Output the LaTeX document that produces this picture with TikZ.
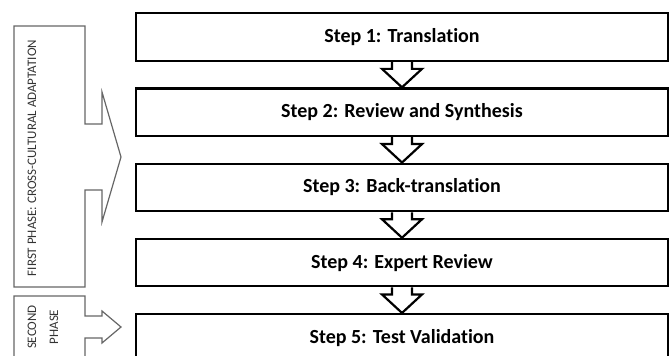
\documentclass[tikz,border=0pt]{standalone}
\usepackage{fontspec}
\setmainfont{Carlito}[Ligatures=NoCommon]
\usetikzlibrary{positioning,calc}

\tikzset{
  stepbox/.style={draw, line width=2.2pt, minimum width=532pt, minimum height=47.5pt, inner sep=0pt, font=\fontsize{20}{24}\selectfont\bfseries},
  flowarrow/.style={draw, line width=2.2pt, line join=miter},
  phaseshape/.style={draw=black!60, line width=1.2pt},
  phasetext/.style={text=black!80, rotate=90, inner sep=0pt, font=\fontsize{13}{15}\selectfont}
}

\begin{document}
\begin{tikzpicture}[x=1pt, y=-1pt, node distance=25.5pt]
    \useasboundingbox (0,0) rectangle (672,356);

    % Steps
    \node[stepbox] (s1) at (402,37) {Step 1: Translation};
    \node[stepbox, below=of s1] (s2) {Step 2: Review and Synthesis};
    \node[stepbox, below=of s2] (s3) {Step 3: Back-translation};
    \node[stepbox, below=of s3] (s4) {Step 4: Expert Review};
    \node[stepbox, below=of s4] (s5) {Step 5: Test Validation};

    % Arrows between steps
    \foreach \a/\b in {s1/s2, s2/s3, s3/s4, s4/s5}
        \draw[flowarrow] ($(\a.south)+(-10,0)$) -- ++(0,7) -- ++(-10,0) -- (\b.north)
            -- ($(\a.south)+(20,7)$) -- ++(-10,0) -- ($(\a.south)+(10,0)$);

    % First phase
    \draw[phaseshape] (14,26) -- (85,26) -- (85,124) -- (102,124) -- (102,92) -- (121,157)
        -- (102,222) -- (102,190) -- (85,190) -- (85,287) -- (14,287) -- cycle;
    \node[phasetext] (p1) at (32,158) {FIRST PHASE: CROSS-CULTURAL ADAPTATION};

    % Second phase
    \draw[phaseshape] (14,362) -- (14,296) -- (85,296) -- (85,316) -- (102,316) -- (102,311)
        -- (121,327) -- (102,343) -- (102,338) -- (85,338) -- (85,362);
    \node[phasetext, align=center] (p2) at (43,327) {SECOND\\[7pt]PHASE};
\end{tikzpicture}
\end{document}
